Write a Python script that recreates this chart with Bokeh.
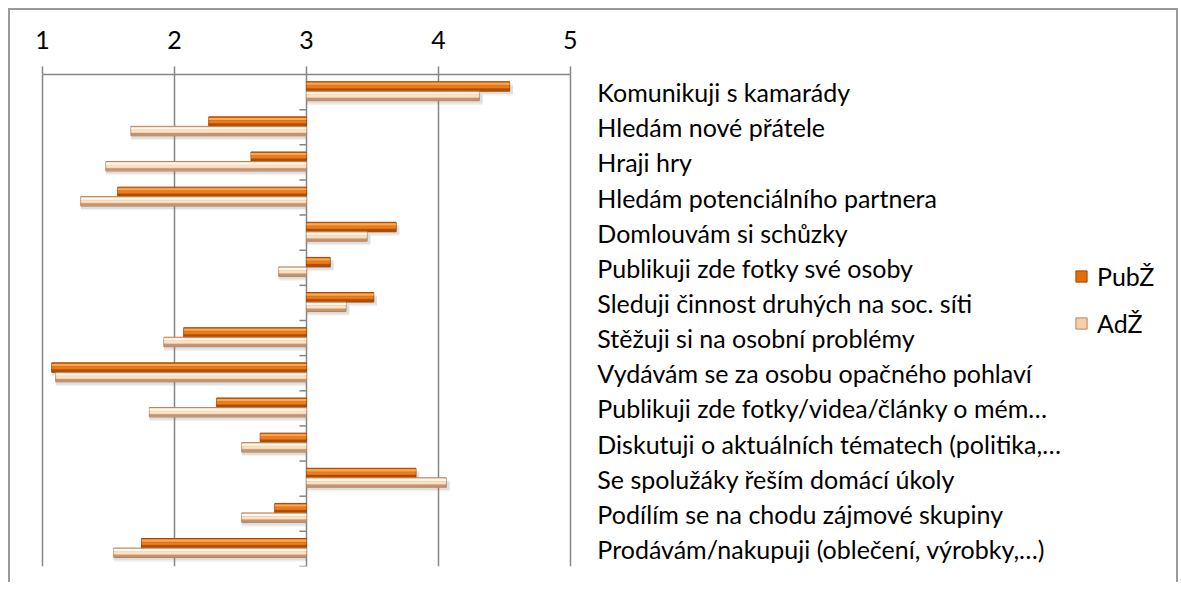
from bokeh.plotting import figure
from bokeh.models import (Range1d, FixedTicker, Legend, LegendItem)
from bokeh.core.properties import value
from bokeh.embed import file_html
from bokeh.resources import INLINE

categories = [
    "Komunikuji s kamarády",
    "Hledám nové přátele",
    "Hraji hry",
    "Hledám potenciálního partnera",
    "Domlouvám si schůzky",
    "Publikuji zde fotky své osoby",
    "Sleduji činnost druhých na soc. síti",
    "Stěžuji si na osobní problémy",
    "Vydávám se za osobu opačného pohlaví",
    "Publikuji zde fotky/videa/články o mém…",
    "Diskutuji o aktuálních tématech (politika,…",
    "Se spolužáky řeším domácí úkoly",
    "Podílím se na chodu zájmové skupiny",
    "Prodávám/nakupuji (oblečení, výrobky,…)",
]
pubz = [4.54, 2.26, 2.58, 1.57, 3.68, 3.18, 3.51, 2.07, 1.07, 2.32, 2.65, 3.83, 2.76, 1.75]
adz = [4.31, 1.67, 1.48, 1.29, 3.46, 2.79, 3.30, 1.92, 1.10, 1.81, 2.51, 4.06, 2.51, 1.54]
x_ticks = [1, 2, 3, 4, 5]
series_names = ["PubŽ", "AdŽ"]

FONT = "Lato"
FS = "25px"
GRID = "#868686"

n = len(categories)
idx = list(range(n))

W, HGT = 1170, 574
BORDER = 2
ML, MT, MB = 29, 64, 18
PX_PER_UNIT = 131.5
frame_w = W - 2 * BORDER - ML
x_start = x_ticks[0] - 3 / PX_PER_UNIT
x_end = x_start + frame_w / PX_PER_UNIT

p = figure(width=W, height=HGT, output_backend="svg", toolbar_location=None,
           x_range=Range1d(x_start, x_end), y_range=Range1d(n - 0.5, -0.5),
           x_axis_location="above", y_axis_location=None,
           min_border_left=ML, min_border_right=0, min_border_top=MT, min_border_bottom=MB)
p.margin = (8, 0, 0, 8)
p.styles = {"border-left": "2px solid #9a9a9a", "border-top": "2px solid #9a9a9a",
            "border-right": "2px solid #9a9a9a"}
p.outline_line_color = None
p.background_fill_color = "white"
p.border_fill_color = "white"

# grid
p.ygrid.grid_line_color = None
p.xgrid.ticker = FixedTicker(ticks=x_ticks)
p.xgrid.grid_line_color = GRID
p.xgrid.grid_line_width = 1.5
p.xgrid.bounds = (x_ticks[0] - 0.01, x_ticks[-1] + 0.01)

# top axis
xa = p.xaxis[0]
xa.ticker = FixedTicker(ticks=x_ticks)
xa.bounds = (x_ticks[0], x_ticks[-1])
xa.axis_line_color = GRID
xa.axis_line_width = 1.5
xa.major_tick_line_color = GRID
xa.major_tick_line_width = 1.5
xa.major_tick_out = 8
xa.major_tick_in = 0
xa.minor_tick_line_color = None
xa.major_label_text_font = FONT
xa.major_label_text_font_size = FS
xa.major_label_text_color = "black"
xa.major_label_standoff = 18

# category axis ticks at x = 3
bounds = [i + 0.5 for i in idx]
p.ray(x=[3] * n, y=bounds, length=7, angle=3.14159265, length_units="screen",
      line_color=GRID, line_width=1.5)

# category labels to the right of the value scale
p.text(x=[x_ticks[-1]] * n, y=idx, text=categories, x_offset=27,
       text_baseline="middle", text_align="left", text_font=value(FONT),
       text_font_size=value(FS), text_color="black")

H = 0.27
y_or = [i - 0.16 for i in idx]
y_pe = [i + 0.11 for i in idx]
base = [3] * n

def bar3d(ys, vals, edge, main, hi, hi2):
    for dy, a in ((0.12, 0.10), (0.08, 0.16)):
        p.hbar(y=[y + dy for y in ys], left=base,
               right=[v + 0.025 if v > 3 else v for v in vals],
               height=H, fill_color="#7f7f7f", fill_alpha=a, line_color=None)
    r = p.hbar(y=ys, left=base, right=vals, height=H, fill_color=main, line_color=edge, line_width=1)
    p.hbar(y=[y + 0.09 for y in ys], left=base, right=vals, height=0.07, fill_color=edge,
           fill_alpha=0.8, line_color=None)
    p.hbar(y=[y - 0.075 for y in ys], left=base, right=vals, height=0.06, fill_color=hi,
           line_color=None)
    p.hbar(y=[y + 0.005 for y in ys], left=base, right=vals, height=0.06, fill_color=hi2,
           fill_alpha=0.7, line_color=None)
    return r

r_or = bar3d(y_or, pubz, "#9A4706", "#E46C0A", "#FBA957", "#EF8424")
r_pe = bar3d(y_pe, adz, "#B58460", "#F6CFA9", "#FFF8EE", "#FDE9D5")

legend = Legend(items=[LegendItem(label=series_names[0], renderers=[r_or]),
                       LegendItem(label=series_names[1], renderers=[r_pe])],
                location=(1035, 228), orientation="vertical")
legend.border_line_color = None
legend.background_fill_alpha = 0
legend.padding = 0
legend.margin = 0
legend.spacing = 17
legend.glyph_width = 14
legend.glyph_height = 14
legend.label_height = 22
legend.label_standoff = 9
legend.label_text_font = FONT
legend.label_text_font_size = FS
legend.label_text_color = "black"
p.add_layout(legend)

open("out.html", "w").write(file_html(p, INLINE))
